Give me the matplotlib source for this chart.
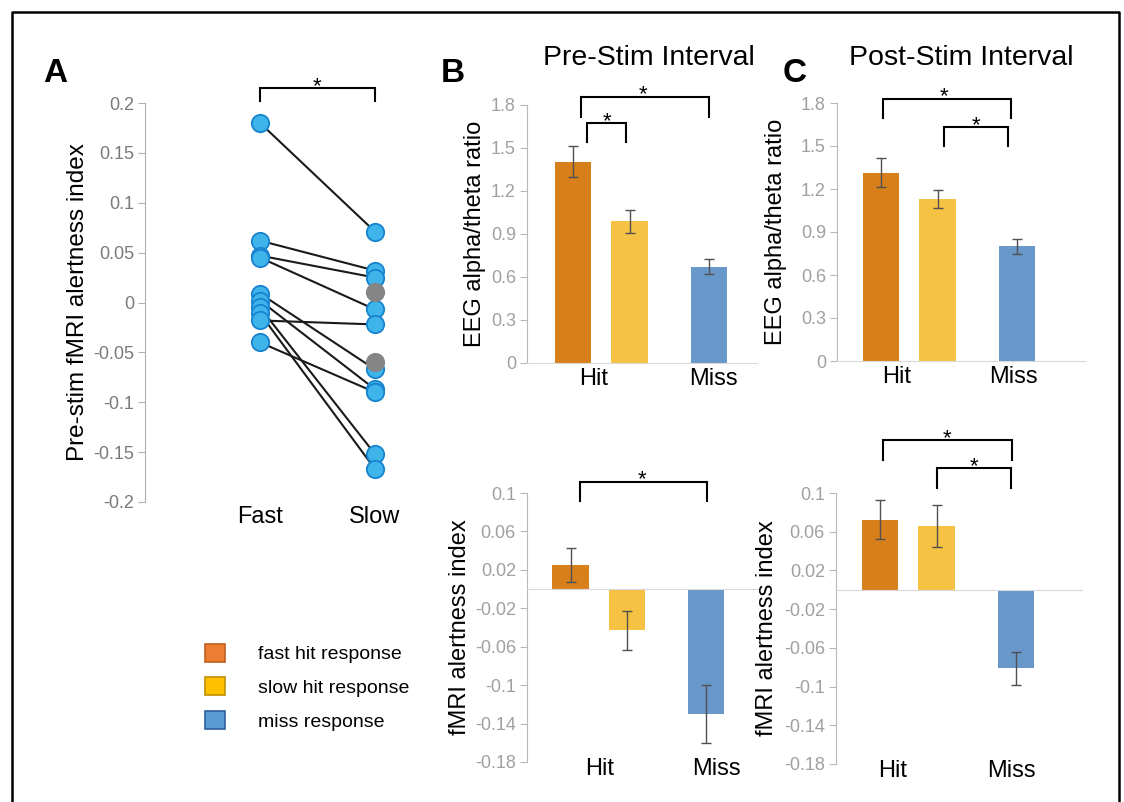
import matplotlib
matplotlib.use('Agg')
import matplotlib.pyplot as plt
from matplotlib.lines import Line2D
from matplotlib.patches import Patch

plt.rcParams['font.family'] = ['Liberation Sans', 'DejaVu Sans']

W, H = 1124, 802

# ---- panel A: paired fast / slow values (Pre-stim fMRI alertness index)
fast_vals = [0.180, 0.062, 0.047, 0.045, 0.009, 0.002, -0.005, -0.011, -0.018, -0.040]
slow_vals = [0.071, 0.032, 0.025, -0.007, -0.067, -0.087, -0.152, -0.167, -0.022, -0.090]
slow_grey = [0.011, -0.060]
pair_labels = ['Fast', 'Slow']

# ---- panels B/C: bar means and errors (fast hit, slow hit, miss)
conditions = ['fast hit response', 'slow hit response', 'miss response']
eeg_pre = [1.405, 0.99, 0.673]
eeg_pre_err = [0.11, 0.08, 0.053]
eeg_post = [1.315, 1.13, 0.80]
eeg_post_err = [0.10, 0.063, 0.053]
fmri_pre = [0.025, -0.043, -0.130]
fmri_pre_err = [0.0175, 0.020, 0.030]
fmri_post = [0.0725, 0.066, -0.081]
fmri_post_err = [0.020, 0.022, 0.017]
group_labels = ['Hit', 'Miss']

eeg_ticks = [0, 0.3, 0.6, 0.9, 1.2, 1.5, 1.8]
eeg_ticklabels = ['0', '0.3', '0.6', '0.9', '1.2', '1.5', '1.8']
fmri_ticks = [0.1, 0.06, 0.02, -0.02, -0.06, -0.1, -0.14, -0.18]
fmri_ticklabels = ['0.1', '0.06', '0.02', '-0.02', '-0.06', '-0.1', '-0.14', '-0.18']
a_ticks = [0.2, 0.15, 0.1, 0.05, 0, -0.05, -0.1, -0.15, -0.2]
a_ticklabels = ['0.2', '0.15', '0.1', '0.05', '0', '-0.05', '-0.1', '-0.15', '-0.2']

bar_colors = ['#d7801b', '#f6c244', '#6898ca']
legend_faces = ['#ed7d31', '#ffc000', '#5b9bd5']
legend_edges = ['#c0601c', '#c09000', '#2f5f9e']
bar_pos = [0, 1, 2.4]
bar_w = 0.64
SP = 56.5  # pixels per bar unit


def box(l, t, r, b):
    return [l / W, 1 - b / H, (r - l) / W, (b - t) / H]


def bracket(ax, x1, x2, y, low, sx, fs=16):
    ax.plot([x1, x1, x2, x2], [low, y, y, low], color='black', lw=1.5,
            clip_on=False, solid_joinstyle='miter')
    ax.annotate('*', (sx, y), xytext=(0, -6.3), textcoords='offset points',
                ha='center', va='bottom', fontsize=fs, annotation_clip=False)


fig = plt.figure(figsize=(W / 100, H / 100), dpi=100)

# frame
fig.add_artist(Line2D([11.5 / W, 11.5 / W, 1119 / W, 1119 / W],
                      [0, 1 - 11.5 / H, 1 - 11.5 / H, 0], color='black', lw=1.8))

# ---------------- panel A
axA = fig.add_axes(box(145, 103, 420, 502))
for f, s in zip(fast_vals, slow_vals):
    axA.plot([0, 1], [f, s], color='#1a1a1a', lw=1.5, zorder=2)
axA.plot([0] * len(fast_vals), fast_vals, 'o', ms=12.5, mfc='#3fb4ea', mec='#1783d0',
         mew=1.3, zorder=3, clip_on=False)
axA.plot([1] * len(slow_vals), slow_vals, 'o', ms=12.5, mfc='#3fb4ea', mec='#1783d0',
         mew=1.3, zorder=3, clip_on=False)
axA.plot([1] * len(slow_grey), slow_grey, 'o', ms=12.5, mfc='#858585', mec='#858585',
         mew=1.3, zorder=4)
axA.set_xlim(-1.0, (420 - 260) / 115)
axA.set_ylim(-0.2, 0.2)
for sp in ['top', 'right', 'bottom']:
    axA.spines[sp].set_visible(False)
axA.spines['left'].set_color('#b0b0b0')
axA.set_yticks(a_ticks)
axA.set_yticklabels(a_ticklabels)
axA.tick_params(axis='y', colors='#b0b0b0', labelcolor='#7a7a7a', labelsize=13,
                length=5, pad=3)
axA.set_xticks([0, 1])
axA.set_xticklabels(pair_labels, fontsize=17)
axA.tick_params(axis='x', length=0, pad=3)
axA.set_ylabel('Pre-stim fMRI alertness index', fontsize=17.5)
axA.yaxis.set_label_coords(-56 / 275, 0.5)
bracket(axA, 0, 1, 0.215, 0.202, 0.5)
fig.text(55 / W, 1 - 74 / H, 'A', fontsize=24, fontweight='bold', ha='center', va='center')


def bar_panel(rect, c0, vals, errs, ticks, ticklabels, ylim, label, label_off,
              group_x, zero_axis=False):
    l, t, r, b = rect
    ax = fig.add_axes(box(*rect))
    ax.bar(bar_pos, vals, width=bar_w, color=bar_colors, zorder=2)
    ax.errorbar(bar_pos, vals, yerr=errs, fmt='none', ecolor='#505050', elinewidth=1,
                capsize=3.5, capthick=1, zorder=3)
    ax.set_xlim(-(c0 - l) / SP, (r - c0) / SP)
    ax.set_ylim(*ylim)
    ax.spines['top'].set_visible(False)
    ax.spines['right'].set_visible(False)
    ax.spines['left'].set_color('#b8b8b8')
    ax.spines['bottom'].set_color('#d9d9d9')
    if zero_axis:
        ax.spines['bottom'].set_position(('data', 0))
    ax.set_yticks(ticks)
    ax.set_yticklabels(ticklabels)
    ax.tick_params(axis='y', colors='#b8b8b8', labelcolor='#a0a0a0', labelsize=13,
                   length=5, pad=3)
    ax.set_xticks([])
    for gx, g in zip(group_x, group_labels):
        if zero_axis:
            ax.text(gx, -7 / (b - t), g, transform=ax.get_xaxis_transform(),
                    ha='center', va='center', fontsize=17)
        else:
            ax.text(gx, -5 / (b - t), g, transform=ax.get_xaxis_transform(),
                    ha='center', va='top', fontsize=17)
    ax.set_ylabel(label, fontsize=17)
    ax.yaxis.set_label_coords(-label_off / (r - l), 0.5)
    return ax


# ---------------- panel B (pre-stim)
axB1 = bar_panel((527, 105, 757, 363), 573, eeg_pre, eeg_pre_err, eeg_ticks,
                 eeg_ticklabels, (0, 1.8), 'EEG alpha/theta ratio', 41, [0.37, 2.48])
bracket(axB1, 0.14, 2.40, 1.858, 1.714, 1.24)
bracket(axB1, 0.24, 0.93, 1.672, 1.544, 0.61)

axB2 = bar_panel((527, 493, 758, 762), 570.5, fmri_pre, fmri_pre_err, fmri_ticks,
                 fmri_ticklabels, (-0.18, 0.1), 'fMRI alertness index', 56, [0.52, 2.59],
                 zero_axis=True)
bracket(axB2, 0.17, 2.41, 0.1116, 0.0913, 1.26)

# ---------------- panel C (post-stim)
axC1 = bar_panel((837, 103, 1085, 361), 881, eeg_post, eeg_post_err, eeg_ticks,
                 eeg_ticklabels, (0, 1.8), 'EEG alpha/theta ratio', 50, [0.28, 2.34])
bracket(axC1, 0.03, 2.30, 1.830, 1.695, 1.12)
bracket(axC1, 1.12, 2.25, 1.632, 1.497, 1.69)

axC2 = bar_panel((836, 493, 1082, 764), 880, fmri_post, fmri_post_err, fmri_ticks,
                 fmri_ticklabels, (-0.18, 0.1), 'fMRI alertness index', 58, [0.23, 2.33],
                 zero_axis=True)
bracket(axC2, 0.06, 2.33, 0.1544, 0.1337, 1.18)
bracket(axC2, 1.0, 2.32, 0.1258, 0.1056, 1.67)

# ---------------- titles and letters
fig.text(649 / W, 1 - 58 / H, 'Pre-Stim Interval', fontsize=20.5, ha='center', va='center')
fig.text(961 / W, 1 - 58 / H, 'Post-Stim Interval', fontsize=20.5, ha='center', va='center')
fig.text(453 / W, 1 - 73 / H, 'B', fontsize=24, fontweight='bold', ha='center', va='center')
fig.text(795 / W, 1 - 73 / H, 'C', fontsize=24, fontweight='bold', ha='center', va='center')

# ---------------- legend
handles = [Patch(facecolor=fc, edgecolor=ec, lw=1.2) for fc, ec in zip(legend_faces, legend_edges)]
fig.legend(handles, conditions, loc='upper left', bbox_to_anchor=(197 / W, 1 - 636 / H),
           frameon=False, fontsize=14, handlelength=1.05, handleheight=1.05,
           handletextpad=1.7, labelspacing=0.72, borderaxespad=0)

fig.savefig('out.png', dpi=100)
